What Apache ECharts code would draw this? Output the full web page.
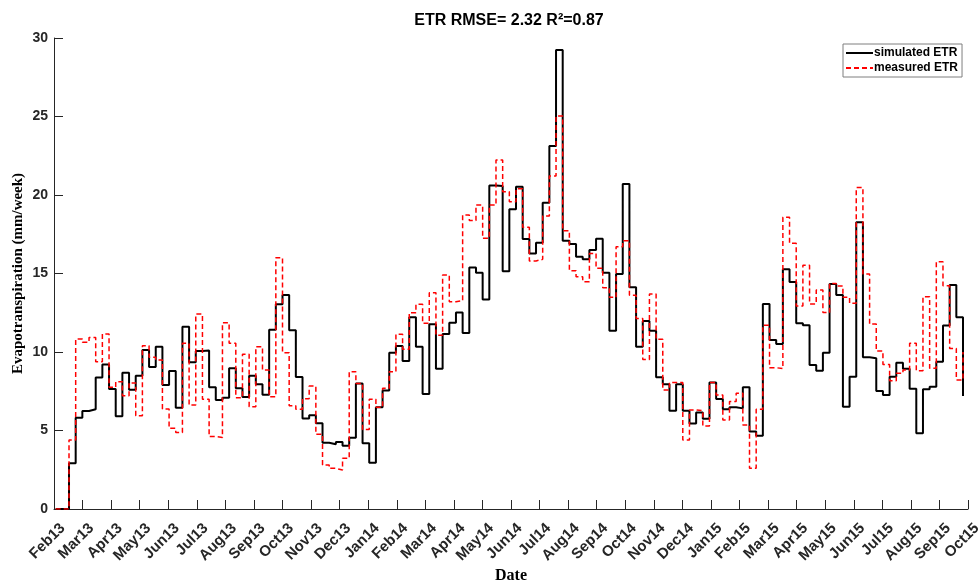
<!DOCTYPE html>
<html>
<head>
<meta charset="utf-8">
<title>ETR</title>
<script src="https://cdn.jsdelivr.net/npm/echarts@6/dist/echarts.min.js"></script>
<style>
  html, body { margin: 0; padding: 0; background: #fff; }
  #chart { width: 978px; height: 584px; }
</style>
</head>
<body>
<div id="chart"></div>
<script>
// Month tick labels along the date axis (evenly spaced ticks)
const monthLabels = [
  'Feb13','Mar13','Apr13','May13','Jun13','Jul13','Aug13','Sep13','Oct13','Nov13','Dec13',
  'Jan14','Feb14','Mar14','Apr14','May14','Jun14','Jul14','Aug14','Sep14','Oct14','Nov14','Dec14',
  'Jan15','Feb15','Mar15','Apr15','May15','Jun15','Jul15','Aug15','Sep15','Oct15'
];

// Weekly simulated evapotranspiration (mm/week)
const simulatedETR = [
  0, 0, 2.91, 5.82, 6.24, 6.35, 8.37, 9.21, 7.64, 5.90,
  8.68, 7.60, 8.49, 10.13, 9.04, 10.34, 7.90, 8.79, 6.45, 11.61,
  9.34, 10.06, 10.10, 7.75, 6.94, 7.09, 8.96, 7.69, 7.13, 8.49,
  7.94, 7.28, 11.42, 13.04, 13.63, 11.38, 8.41, 5.77, 5.97, 5.46,
  4.22, 4.12, 4.27, 4.03, 4.54, 8.00, 4.18, 2.95, 6.48, 7.54,
  9.96, 10.38, 9.43, 12.21, 10.34, 7.32, 11.76, 8.94, 11.15, 11.87,
  12.51, 11.21, 15.39, 15.05, 13.35, 20.60, 20.57, 15.14, 19.10, 20.53,
  17.20, 16.28, 16.96, 19.51, 23.12, 29.24, 17.09, 16.88, 16.07, 15.90,
  16.50, 17.22, 15.05, 11.36, 14.97, 20.70, 14.12, 10.34, 11.97, 11.36,
  8.39, 7.94, 6.26, 7.94, 6.26, 5.44, 6.14, 5.75, 8.05, 7.00,
  6.35, 6.48, 6.41, 7.75, 4.93, 4.67, 13.06, 10.76, 10.51, 15.27,
  14.46, 11.83, 11.70, 9.17, 8.81, 9.96, 14.33, 13.63, 6.52, 8.43,
  18.26, 9.66, 9.60, 7.52, 7.26, 8.43, 9.32, 8.94, 7.66, 4.82,
  7.62, 7.79, 9.38, 11.68, 14.27, 12.21, 7.20
];

// Weekly measured evapotranspiration (mm/week)
const measuredETR = [
  0, 0, 4.39, 10.83, 10.62, 10.93, 9.38, 11.15, 7.75, 8.11,
  7.22, 8.03, 5.94, 10.40, 9.66, 9.49, 6.37, 5.14, 4.88, 10.55,
  6.62, 12.42, 6.99, 4.61, 4.56, 11.87, 10.55, 7.09, 9.85, 6.52,
  10.34, 8.85, 7.15, 16.00, 9.96, 6.58, 6.35, 7.03, 7.83, 4.76,
  2.80, 2.59, 2.48, 3.23, 8.75, 8.00, 5.07, 6.99, 6.48, 7.69,
  8.75, 11.13, 10.17, 12.50, 13.04, 11.83, 13.78, 11.06, 14.90, 13.20,
  13.27, 18.73, 18.37, 19.36, 17.24, 19.36, 22.23, 20.21, 19.57, 20.40,
  17.94, 15.80, 15.90, 18.66, 21.21, 25.03, 17.73, 15.18, 14.80, 14.48,
  16.28, 15.33, 14.10, 13.48, 16.71, 17.09, 13.61, 12.14, 9.53, 13.69,
  10.81, 7.58, 8.05, 8.05, 4.39, 6.31, 6.26, 5.29, 8.05, 7.26,
  5.67, 6.84, 7.37, 5.35, 2.59, 6.35, 11.70, 9.00, 8.94, 18.58,
  16.92, 12.93, 15.52, 13.06, 13.95, 12.51, 14.37, 14.20, 13.48, 13.10,
  20.47, 14.97, 11.78, 10.06, 9.21, 8.17, 8.64, 8.85, 10.55, 8.81,
  13.52, 8.96, 15.75, 14.22, 10.23, 8.22, 10.00
];

// The axis spans 137 weeks split into 32 equal month ticks;
// the first weekly sample sits a quarter week after the axis start.
const WEEKS_ON_AXIS = 137;
const FIRST_WEEK_OFFSET = 0.25;
const MONTHS_ON_AXIS = monthLabels.length - 1;

function weekToAxis(i) {
  return (i + FIRST_WEEK_OFFSET) * MONTHS_ON_AXIS / WEEKS_ON_AXIS;
}
const simData = simulatedETR.map((v, i) => [weekToAxis(i), v]);
const measData = measuredETR.map((v, i) => [weekToAxis(i), v]);

const SANS = "'Liberation Sans', Arial, sans-serif";
const SERIF = "'Liberation Serif', 'Times New Roman', serif";

const chart = echarts.init(document.getElementById('chart'), null, { renderer: 'canvas' });
chart.setOption({
  animation: false,
  backgroundColor: '#ffffff',
  title: {
    text: 'ETR RMSE= 2.32 R\u00B2=0.87',
    left: 504,
    top: 8,
    textAlign: 'center',
    textStyle: { fontFamily: SANS, fontWeight: 'bold', fontSize: 16, color: '#000' }
  },
  legend: {
    orient: 'vertical',
    left: 843,
    top: 44,
    backgroundColor: '#ffffff',
    borderColor: '#7f7f7f',
    borderWidth: 1,
    borderRadius: 0,
    padding: [3, 4, 3, 2],
    itemGap: 3,
    itemWidth: 27,
    itemHeight: 12,
    itemStyle: { opacity: 0 },
    textStyle: { fontFamily: SANS, fontWeight: 'bold', fontSize: 12, color: '#000', padding: [0, 0, 0, -4] },
    data: ['simulated ETR', 'measured ETR']
  },
  grid: { left: 54, right: 10, top: 38, bottom: 75, outerBoundsMode: 'none' },
  xAxis: {
    type: 'value',
    min: 0,
    max: MONTHS_ON_AXIS,
    interval: 1,
    name: 'Date',
    nameLocation: 'middle',
    nameGap: 59,
    nameMoveOverlap: false,
    nameTextStyle: { fontFamily: SERIF, fontWeight: 'bold', fontSize: 16, color: '#000' },
    axisLine: { show: true, lineStyle: { color: '#262626', width: 1 } },
    axisTick: { show: true, inside: true, length: 9, lineStyle: { color: '#262626' } },
    splitLine: { show: false },
    axisLabel: {
      rotate: 45,
      align: 'right',
      verticalAlign: 'top',
      margin: 8,
      padding: [5, 0, 0, 0],
      fontFamily: SANS,
      fontWeight: 'bold',
      fontSize: 15,
      color: '#262626',
      hideOverlap: false,
      formatter: v => monthLabels[Math.round(v)] || ''
    }
  },
  yAxis: {
    type: 'value',
    min: 0,
    max: 30,
    interval: 5,
    name: 'Evapotranspiration (mm/week)',
    nameLocation: 'middle',
    nameGap: 28,
    nameMoveOverlap: false,
    nameTextStyle: { fontFamily: SERIF, fontWeight: 'bold', fontSize: 15, color: '#000' },
    axisLine: { show: true, lineStyle: { color: '#262626', width: 1 } },
    axisTick: { show: true, inside: true, length: 9, lineStyle: { color: '#262626' } },
    splitLine: { show: false },
    axisLabel: {
      margin: 6,
      fontFamily: SANS,
      fontWeight: 'bold',
      fontSize: 14,
      color: '#262626'
    }
  },
  series: [
    {
      name: 'simulated ETR',
      type: 'line',
      step: 'end',
      data: simData,
      showSymbol: false,
      symbol: 'none',
      lineStyle: { color: '#000000', width: 2 },
      itemStyle: { color: '#000000' }
    },
    {
      name: 'measured ETR',
      type: 'line',
      step: 'end',
      data: measData,
      showSymbol: false,
      symbol: 'none',
      lineStyle: { color: '#ff0000', width: 1.5, type: [5, 3] },
      itemStyle: { color: '#ff0000' }
    }
  ]
});
</script>
</body>
</html>
